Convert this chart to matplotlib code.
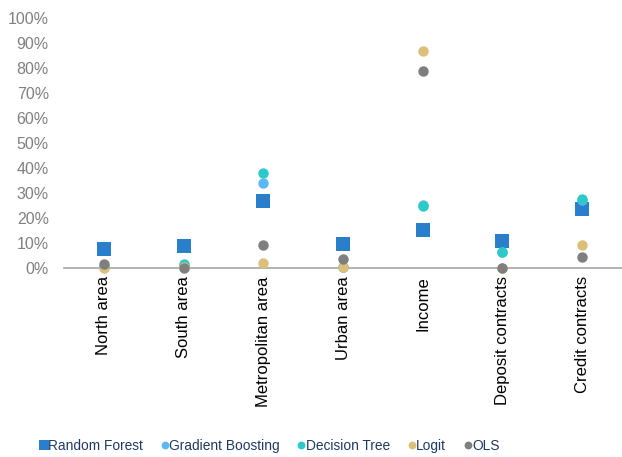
import matplotlib
matplotlib.use('Agg')
import matplotlib.pyplot as plt
import numpy as np

plt.rcParams['font.family'] = ['Liberation Sans', 'DejaVu Sans']

categories = ['North area', 'South area', 'Metropolitan area', 'Urban area',
              'Income', 'Deposit contracts', 'Credit contracts']
random_forest = [7.6, 8.7, 26.8, 9.7, 15.3, 10.9, 23.5]
gradient_boosting = [0.5, 1.0, 33.9, 0.5, 25.0, 6.5, 27.3]
decision_tree = [0.3, 1.5, 37.9, 0.2, 24.9, 6.5, 27.6]
logit = [0.0, 0.2, 1.9, 0.3, 87.0, 0.1, 9.2]
ols = [1.5, 0.0, 9.1, 3.5, 78.8, 0.0, 4.3]
yticks = [0, 10, 20, 30, 40, 50, 60, 70, 80, 90, 100]

fig = plt.figure(figsize=(6.22, 4.57), dpi=100)
ax = fig.add_axes([0.103, 0.4136, 0.897, 0.547])

x = np.arange(len(categories))
series = [
    ('Random Forest', random_forest, 's', '#2a7fcc', 10),
    ('Gradient Boosting', gradient_boosting, 'o', '#5bb8f5', 7.5),
    ('Decision Tree', decision_tree, 'o', '#2cc9c9', 7.5),
    ('Logit', logit, 'o', '#dcbf78', 7.5),
    ('OLS', ols, 'o', '#7f7f7f', 7.5),
]
for name, vals, mk, col, ms in series:
    ax.plot(x, vals, linestyle='none', marker=mk, color=col, markersize=ms,
            markeredgewidth=0, label=name, clip_on=False, zorder=3)

ax.set_xlim(-0.5, len(categories) - 0.5)
ax.set_ylim(0, 100)
ax.set_yticks(yticks)
ax.set_yticklabels([f'{t}%' for t in yticks], color='#808080', fontsize=11.5)
ax.set_xticks(x)
ax.set_xticklabels(categories, rotation=90, fontsize=12, color='black')
ax.tick_params(axis='x', length=0, pad=6)
ax.tick_params(axis='y', length=0, pad=11)
for s in ['top', 'right', 'left']:
    ax.spines[s].set_visible(False)
ax.spines['bottom'].set_color('#a6a6a6')
ax.spines['bottom'].set_linewidth(1.2)
ax.spines['bottom'].set_zorder(1)

leg = fig.legend(loc='center', bbox_to_anchor=(0.43, 0.024), ncol=5,
                 frameon=False, fontsize=9.9, handletextpad=-0.3,
                 columnspacing=1.0, markerscale=0.75, handlelength=1.2)
for t in leg.get_texts():
    t.set_color('#1f3864')

fig.savefig('out.png', dpi=100)
